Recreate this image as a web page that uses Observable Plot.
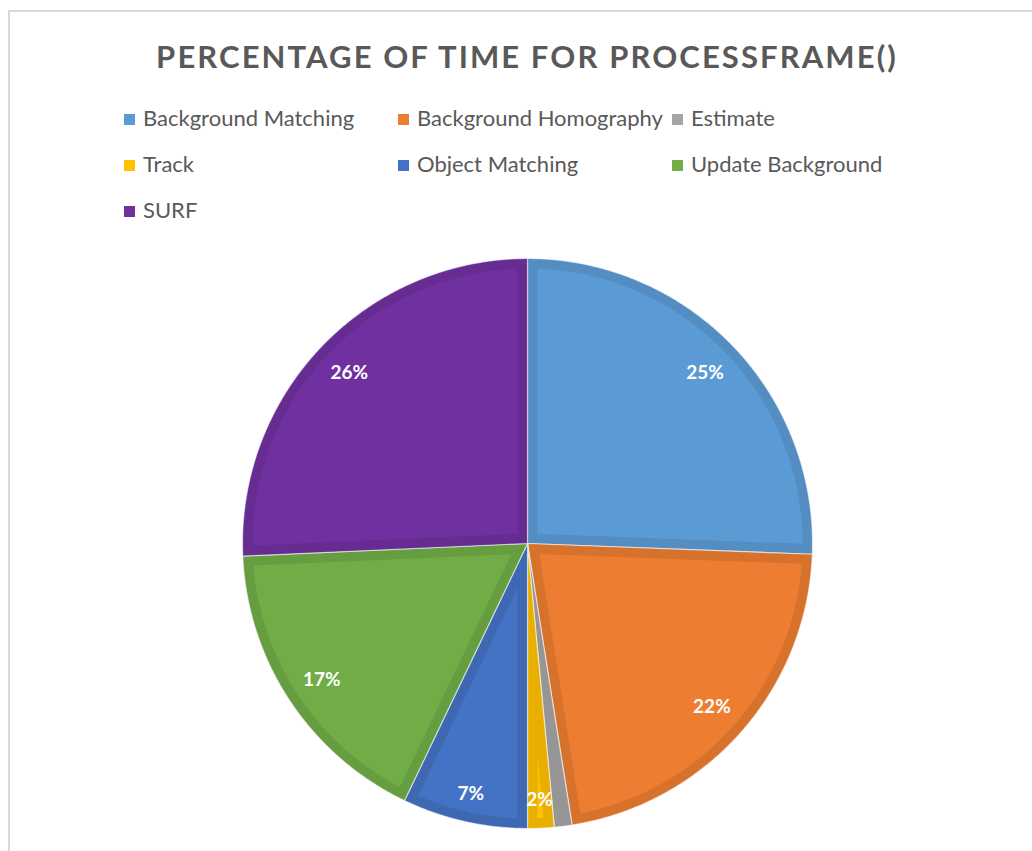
<!DOCTYPE html>
<html><head><meta charset="utf-8">
<script src="https://cdn.jsdelivr.net/npm/d3@7"></script>
<script src="https://cdn.jsdelivr.net/npm/@observablehq/plot@0.6"></script>
<style>
body{margin:0;background:#fff;width:1032px;height:851px;overflow:hidden;position:relative;font-family:Lato,"Open Sans",sans-serif;}
#frame{position:absolute;left:8px;top:10px;width:1100px;height:900px;border:2px solid #d9d9d9;box-sizing:border-box;}
#title{position:absolute;left:0;width:1054px;top:38px;text-align:center;font-weight:bold;font-size:31px;line-height:36px;color:#595959;letter-spacing:2.1px;white-space:nowrap;}
.lg{position:absolute;font-size:22px;line-height:24px;color:#595959;white-space:nowrap;}
.lg span.sw{display:inline-block;width:11px;height:11px;margin-right:8px;vertical-align:1px;}
#pie{position:absolute;left:0;top:250px;}
</style></head>
<body>
<div id="frame"></div>
<div id="title">PERCENTAGE OF TIME FOR PROCESSFRAME()</div>
<div id="legend"></div>
<div id="pie"></div>
<script>
const categories = ["Background Matching","Background Homography","Estimate","Track","Object Matching","Update Background","SURF"];
const values = [25.6, 21.9, 1.0, 1.5, 7.1, 17.2, 25.7];
const labels = ["25%","22%","","2%","7%","17%","26%"];
const colors = ["#5B9BD5","#ED7D31","#A5A5A5","#FFC000","#4472C4","#70AD47","#7030A0"];

// legend (HTML, above the SVG)
const legendCols = [124, 398, 672], legendRows = [106, 152, 198];
const lg = document.getElementById("legend");
categories.forEach((c, i) => {
  const el = document.createElement("div");
  el.className = "lg";
  el.style.left = legendCols[i % 3] + "px";
  el.style.top = legendRows[Math.floor(i / 3)] + "px";
  el.innerHTML = `<span class="sw" style="background:${colors[i]}"></span>${c}`;
  lg.appendChild(el);
});

// pie geometry (unit circle; angles clockwise from top, y down)
const pie = d3.pie().sort(null).value(d => d.value)(categories.map((c, i) => ({name: c, value: values[i], label: labels[i], color: colors[i]})));
const pt = (a, r) => [r * Math.sin(a), -r * Math.cos(a)];
const STEP = Math.PI / 720;
function sector(a0, a1, R) {
  const ring = [[0, 0]];
  for (let a = a0; a < a1; a += STEP) ring.push(pt(a, R));
  ring.push(pt(a1, R));
  ring.push([0, 0]);
  return ring;
}
const D = 10 / 285;
function inset(a0, a1, R, d) {
  const half = (a1 - a0) / 2, mid = (a0 + a1) / 2, Ri = R - d;
  const apexDist = d / Math.sin(half);
  const off = Math.asin(d / Ri);
  if (apexDist >= Ri || off >= half) return null;
  const ring = [pt(mid, apexDist)];
  for (let a = a0 + off; a < a1 - off; a += STEP) ring.push(pt(a, Ri));
  ring.push(pt(a1 - off, Ri));
  ring.push(pt(mid, apexDist));
  return ring;
}
const outer = pie.map(p => ({type: "Feature", properties: {color: d3.color(p.data.color).darker(0.27).formatHex()},
  geometry: {type: "Polygon", coordinates: [sector(p.startAngle, p.endAngle, 1)]}}));
const inner = pie.map(p => {
  const r = inset(p.startAngle, p.endAngle, 1, D);
  return r && {type: "Feature", properties: {color: p.data.color}, geometry: {type: "Polygon", coordinates: [r]}};
}).filter(Boolean);
const labelData = pie.filter(p => p.data.label).map(p => {
  const mid = (p.startAngle + p.endAngle) / 2;
  const rr = p.data.value < 10 ? 0.9 : 0.865;
  const [x, y] = pt(mid, rr);
  return {x, y, text: p.data.label};
});

const chart = Plot.plot({
  width: 1032, height: 590,
  marginLeft: 242, marginRight: 220, marginTop: 8, marginBottom: 12,
  projection: {type: "identity", domain: {type: "MultiPoint", coordinates: [[-1, -1], [1, 1]]}, inset: 0},
  style: {background: "transparent", overflow: "visible"},
  marks: [
    Plot.geo(outer, {fill: d => d.properties.color, stroke: "#ffffff", strokeWidth: 1.2, strokeOpacity: 0.55}),
    Plot.geo(inner, {fill: d => d.properties.color}),
    Plot.text(labelData, {x: "x", y: "y", text: "text", fill: "white", fontWeight: "bold", fontSize: 19, fontFamily: "Lato, sans-serif"})
  ]
});
document.getElementById("pie").appendChild(chart);
</script>
</body></html>
